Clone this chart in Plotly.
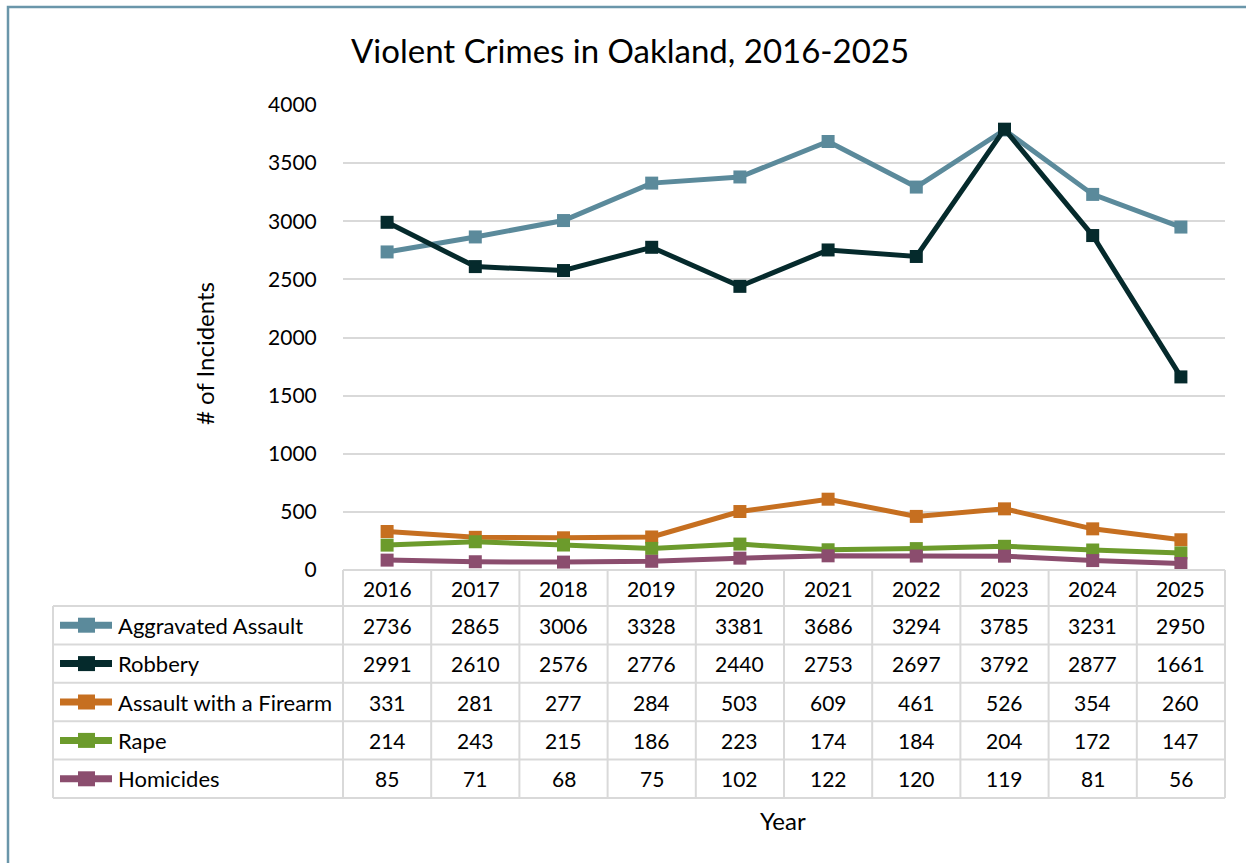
import plotly.graph_objects as go

years = ["2016", "2017", "2018", "2019", "2020", "2021", "2022", "2023", "2024", "2025"]
series_names = ["Aggravated Assault", "Robbery", "Assault with a Firearm", "Rape", "Homicides"]
aggravated_assault = [2736, 2865, 3006, 3328, 3381, 3686, 3294, 3785, 3231, 2950]
robbery = [2991, 2610, 2576, 2776, 2440, 2753, 2697, 3792, 2877, 1661]
assault_firearm = [331, 281, 277, 284, 503, 609, 461, 526, 354, 260]
rape = [214, 243, 215, 186, 223, 174, 184, 204, 172, 147]
homicides = [85, 71, 68, 75, 102, 122, 120, 119, 81, 56]
series_values = [aggravated_assault, robbery, assault_firearm, rape, homicides]
colors = ["#5B8A9B", "#052A2C", "#C66F20", "#6C9B2C", "#8B4D6E"]
y_ticks = [0, 500, 1000, 1500, 2000, 2500, 3000, 3500, 4000]

W, H = 1246, 863
FONT = "Lato"
GRID = "#D9D9D9"

def px(x):
    return x / W

def py(y):
    return 1 - y / H

plot_l, plot_r = 343, 1225
plot_t, plot_b = 105, 570
tab_l = 53
header_b = 606
row_h = 38.4
n_rows = len(series_names)
col_w = (plot_r - plot_l) / len(years)

fig = go.Figure()
for name, vals, c in zip(series_names, series_values, colors):
    fig.add_trace(go.Scatter(
        x=list(range(len(years))), y=vals, name=name, mode="lines+markers",
        line=dict(color=c, width=5),
        marker=dict(symbol="square", size=13, color=c, line=dict(width=0)),
        showlegend=False, cliponaxis=False,
    ))

shapes = []
annotations = []

# frame
shapes.append(dict(type="rect", xref="paper", yref="paper",
                   x0=px(8), x1=px(W + 20), y0=py(H + 20), y1=py(7),
                   line=dict(color="#6A96AA", width=2.5), fillcolor="rgba(0,0,0,0)", layer="below"))

# table lines
lw = 2
shapes.append(dict(type="line", xref="paper", yref="paper", x0=px(plot_l), x1=px(plot_r),
                   y0=py(plot_b), y1=py(plot_b), line=dict(color=GRID, width=lw)))
for i in range(n_rows + 1):
    yy = header_b + i * row_h
    shapes.append(dict(type="line", xref="paper", yref="paper", x0=px(tab_l), x1=px(plot_r),
                       y0=py(yy), y1=py(yy), line=dict(color=GRID, width=lw)))
shapes.append(dict(type="line", xref="paper", yref="paper", x0=px(tab_l), x1=px(tab_l),
                   y0=py(header_b), y1=py(header_b + n_rows * row_h), line=dict(color=GRID, width=lw)))
for k in range(len(years) + 1):
    xx = plot_l + k * col_w
    shapes.append(dict(type="line", xref="paper", yref="paper", x0=px(xx), x1=px(xx),
                       y0=py(plot_b), y1=py(header_b + n_rows * row_h), line=dict(color=GRID, width=lw)))

num_font = dict(family=FONT, size=21, color="#000000")
lab_font = dict(family=FONT, size=22, color="#000000")
# header years
for i, yr in enumerate(years):
    annotations.append(dict(x=i, xref="x", y=py((plot_b + header_b) / 2), yref="paper",
                            text=yr, showarrow=False, font=num_font, xanchor="center", yanchor="middle"))
# rows
for r, (name, vals, c) in enumerate(zip(series_names, series_values, colors)):
    yc = header_b + (r + 0.5) * row_h
    # legend key
    shapes.append(dict(type="line", xref="paper", yref="paper", x0=px(60), x1=px(112),
                       y0=py(yc), y1=py(yc), line=dict(color=c, width=7)))
    shapes.append(dict(type="rect", xref="paper", yref="paper", x0=px(78), x1=px(95),
                       y0=py(yc + 7.5), y1=py(yc - 7.5), line=dict(width=0), fillcolor=c))
    annotations.append(dict(x=px(116), xref="paper", y=py(yc), yref="paper", text=name,
                            showarrow=False, font=lab_font, xanchor="left", yanchor="middle"))
    for i, v in enumerate(vals):
        annotations.append(dict(x=i, xref="x", y=py(yc), yref="paper", text=str(v),
                                showarrow=False, font=num_font, xanchor="center", yanchor="middle"))

# titles
annotations.append(dict(x=px(630), xref="paper", y=py(50), yref="paper",
                        text="Violent Crimes in Oakland, 2016-2025", showarrow=False,
                        font=dict(family=FONT, size=33, color="#000000"), xanchor="center", yanchor="middle"))
annotations.append(dict(x=px(205), xref="paper", y=py(354), yref="paper", text="# of Incidents",
                        textangle=-90, showarrow=False,
                        font=dict(family=FONT, size=24, color="#000000"), xanchor="center", yanchor="middle"))
annotations.append(dict(x=px(783), xref="paper", y=py(820), yref="paper", text="Year",
                        showarrow=False, font=dict(family=FONT, size=24, color="#000000"),
                        xanchor="center", yanchor="middle"))

fig.update_layout(
    template="none",
    width=W, height=H, autosize=False,
    margin=dict(l=0, r=0, t=0, b=0, pad=0, autoexpand=False),
    paper_bgcolor="white", plot_bgcolor="white",
    xaxis=dict(domain=[px(plot_l), px(plot_r)], showticklabels=False, automargin=False,
               showgrid=False, zeroline=False, showline=False, ticks="", range=[-0.5, 9.5]),
    yaxis=dict(domain=[py(plot_b), py(plot_t)], range=[0, 4000], tickvals=y_ticks, automargin=False,
               showgrid=True, gridcolor=GRID, gridwidth=2, zeroline=False, showline=False,
               ticks="outside", ticklen=21, tickcolor="rgba(0,0,0,0)",
               tickfont=dict(family=FONT, size=21, color="#000000")),
    shapes=shapes, annotations=annotations,
)

fig.write_html("out.html", config={"displayModeBar": False},
               post_script="document.body.style.margin='0';")
